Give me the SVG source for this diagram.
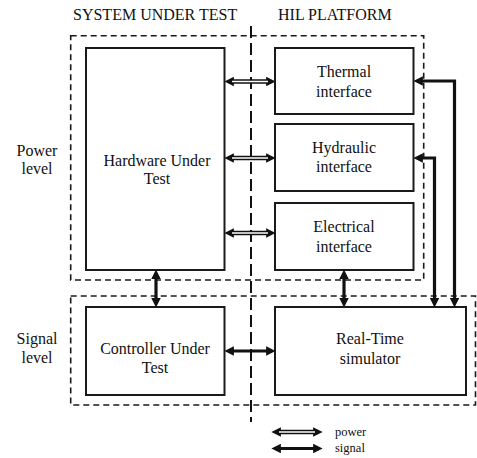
<svg xmlns="http://www.w3.org/2000/svg" width="477" height="458" viewBox="0 0 477 458">
<style>
text{font-family:"Liberation Serif","Times New Roman",serif;fill:#111;}
.lbl{font-family:"Liberation Serif","Times New Roman",serif;font-size:16px;text-anchor:middle;}
.hdr{font-family:"Liberation Serif","Times New Roman",serif;font-size:16px;}
.leg{font-family:"Liberation Serif","Times New Roman",serif;font-size:12.5px;}
.box{fill:none;stroke:#1a1a1a;stroke-width:2;}
.dash{fill:none;stroke:#1a1a1a;stroke-width:1.6;stroke-dasharray:6,4;}
.sep{fill:none;stroke:#111;stroke-width:2;stroke-dasharray:12,5;}
.sig{fill:none;stroke:#111;stroke-width:3.2;marker-start:url(#ah);marker-end:url(#ah);}
.pwo{fill:none;stroke:#111;stroke-width:4.4;marker-start:url(#ah);marker-end:url(#ah);}
.pwi{fill:none;stroke:#fff;stroke-width:1.4;}
</style>
<defs>
<marker id="ah" viewBox="0 0 10 10" refX="2" refY="5" markerWidth="9.5" markerHeight="9.5" markerUnits="userSpaceOnUse" orient="auto-start-reverse">
<path d="M0,0 L10,5 L0,10 z" fill="#111"/>
</marker>
</defs>
<g id="headers">
<text class="hdr" x="73" y="20">SYSTEM UNDER TEST</text>
<text class="hdr" x="278" y="20">HIL PLATFORM</text>
</g>
<g id="power-level">
<rect class="dash" x="70.7" y="35.7" width="353" height="244.3"/>
<text class="lbl" x="37" y="156">Power</text>
<text class="lbl" x="37" y="174">level</text>
</g>
<g id="signal-level">
<rect class="dash" x="70.7" y="296" width="404.8" height="109"/>
<text class="lbl" x="37" y="344">Signal</text>
<text class="lbl" x="37" y="363">level</text>
</g>
<g id="separator">
<line class="sep" x1="251" y1="26" x2="251" y2="422"/>
</g>
<g id="hardware">
<rect class="box" x="86" y="48" width="138.5" height="222"/>
<text class="lbl" x="157" y="165.5">Hardware Under</text>
<text class="lbl" x="157" y="184">Test</text>
</g>
<g id="thermal">
<rect class="box" x="275" y="48" width="138.5" height="66"/>
<text class="lbl" x="344" y="77">Thermal</text>
<text class="lbl" x="344" y="97">interface</text>
</g>
<g id="hydraulic">
<rect class="box" x="275" y="124" width="138.5" height="67"/>
<text class="lbl" x="344" y="153">Hydraulic</text>
<text class="lbl" x="344" y="172">interface</text>
</g>
<g id="electrical">
<rect class="box" x="275" y="203" width="138.5" height="67"/>
<text class="lbl" x="344" y="232">Electrical</text>
<text class="lbl" x="344" y="252">interface</text>
</g>
<g id="controller">
<rect class="box" x="86" y="307" width="138.5" height="88"/>
<text class="lbl" x="155" y="354">Controller Under</text>
<text class="lbl" x="155" y="373">Test</text>
</g>
<g id="realtime">
<rect class="box" x="275" y="307" width="191" height="88"/>
<text class="lbl" x="370" y="344">Real-Time</text>
<text class="lbl" x="370" y="364">simulator</text>
</g>
<g id="connectors">
<path class="pwo" d="M232,81.5 H268"/>
<path class="pwi" d="M232,81.5 H268"/>
<path class="pwo" d="M232,158 H268"/>
<path class="pwi" d="M232,158 H268"/>
<path class="pwo" d="M232,233 H268"/>
<path class="pwi" d="M232,233 H268"/>
<path class="sig" d="M421,81 H454.5 V300"/>
<path class="sig" d="M421,158 H434.5 V300"/>
<path class="sig" d="M156,277 V300"/>
<path class="sig" d="M344,277 V300"/>
<path class="sig" d="M232,351 H268"/>
</g>
<g id="legend">
<path class="pwo" d="M279,432 H315"/>
<path class="pwi" d="M279,432 H315"/>
<path class="sig" d="M279,448.5 H315"/>
<text class="leg" x="335" y="436">power</text>
<text class="leg" x="335" y="452">signal</text>
</g>
</svg>
